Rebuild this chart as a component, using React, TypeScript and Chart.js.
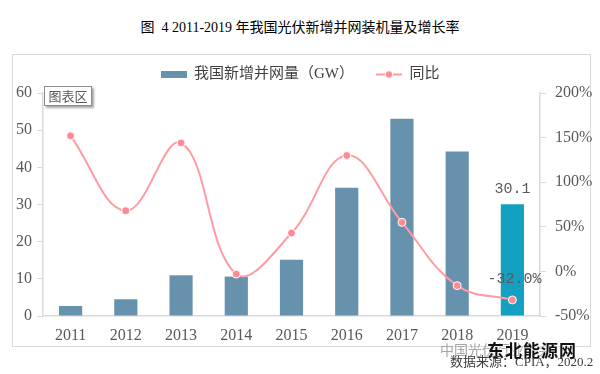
import React, { useEffect, useRef } from 'react';
import { Chart, registerables } from 'chart.js';

Chart.register(...registerables);

const years = ['2011', '2012', '2013', '2014', '2015', '2016', '2017', '2018', '2019'];
const capacityGW = [2.7, 4.5, 10.95, 10.6, 15.13, 34.54, 53.06, 44.26, 30.1];
const growthPct = [152, 68, 144, -3, 43, 130, 55, -16, -32];
const seriesNames = ['我国新增并网量（GW）', '同比'];
const leftAxis = { min: 0, max: 60, step: 10 };
const rightAxis = { min: -50, max: 200, step: 50 };
const labelledIndex = 8;

const titleText = '图  4 2011-2019 年我国光伏新增并网装机量及增长率';
const sourceText = '数据来源：CPIA，2020.2';

const BAR = '#6792AD';
const BAR_HL = '#14A0C0';
const LINE = '#FF9CA3';
const POINT = '#FF8A94';
const TXT = '#595959';
const AXIS = '#D9D9D9';
const FONT = '"Liberation Serif", "Noto Sans CJK SC", serif';

function makeBarSwatch() {
  const c = document.createElement('canvas');
  c.width = 26; c.height = 7;
  const g = c.getContext('2d')!;
  g.fillStyle = BAR;
  g.fillRect(0, 0, 26, 7);
  return c;
}
function makeLineSwatch() {
  const c = document.createElement('canvas');
  c.width = 26; c.height = 10;
  const g = c.getContext('2d')!;
  g.strokeStyle = LINE; g.lineWidth = 2;
  g.beginPath(); g.moveTo(0, 5); g.lineTo(26, 5); g.stroke();
  g.fillStyle = POINT; g.strokeStyle = '#fff'; g.lineWidth = 1;
  g.beginPath(); g.arc(13, 5, 3.8, 0, Math.PI * 2); g.fill(); g.stroke();
  return c;
}

const legendHeightPlugin = {
  id: 'legendHeight',
  afterInit(chart: any) {
    const lg = chart.legend;
    if (lg) {
      const orig = lg.fit.bind(lg);
      lg.fit = function () { orig(); this.height = 48; };
    }
  },
};

const valueLabelPlugin = {
  id: 'valueLabels',
  afterDatasetsDraw(chart: any) {
    const ctx = chart.ctx;
    const bar = chart.getDatasetMeta(0).data[labelledIndex];
    const pt = chart.getDatasetMeta(1).data[labelledIndex];
    ctx.save();
    ctx.font = '15px "Liberation Mono", monospace';
    ctx.fillStyle = TXT;
    ctx.textAlign = 'center';
    ctx.textBaseline = 'middle';
    ctx.fillText(capacityGW[labelledIndex].toFixed(1), bar.x, bar.y - 15);
    ctx.fillText(growthPct[labelledIndex].toFixed(1) + '%', pt.x + 2, pt.y - 21);
    ctx.restore();
  },
};

export default function App() {
  const ref = useRef<HTMLCanvasElement>(null);
  useEffect(() => {
    if (!ref.current) return;
    const barSwatch = makeBarSwatch();
    const lineSwatch = makeLineSwatch();
    const chart = new Chart(ref.current, {
      type: 'bar',
      data: {
        labels: years,
        datasets: [
          {
            type: 'bar',
            label: seriesNames[0],
            data: capacityGW,
            backgroundColor: years.map((_, i) => (i === labelledIndex ? BAR_HL : BAR)),
            yAxisID: 'y',
            barPercentage: 0.42,
            categoryPercentage: 1,
            order: 2,
          } as any,
          {
            type: 'line',
            label: seriesNames[1],
            data: growthPct,
            yAxisID: 'y1',
            borderColor: LINE,
            borderWidth: 2,
            tension: 0.4,
            pointRadius: 4,
            pointBackgroundColor: POINT,
            pointBorderColor: '#fff',
            pointBorderWidth: 1,
            order: 1,
          } as any,
        ],
      },
      options: {
        responsive: false,
        animation: false,
        layout: { padding: { top: 45, left: 0, right: 0, bottom: 0 } },
        plugins: {
          tooltip: { enabled: false },
          legend: {
            position: 'top',
            labels: {
              usePointStyle: true,
              pointStyleWidth: 26,
              boxHeight: 10,
              padding: 22,
              color: '#404040',
              font: { family: FONT, size: 15 },
              generateLabels: () => [
                { text: seriesNames[0], pointStyle: barSwatch as any, fillStyle: BAR, strokeStyle: BAR, lineWidth: 0, hidden: false, datasetIndex: 0, fontColor: '#404040' },
                { text: seriesNames[1], pointStyle: lineSwatch as any, fillStyle: LINE, strokeStyle: LINE, lineWidth: 0, hidden: false, datasetIndex: 1, fontColor: '#404040' },
              ],
            },
          },
        },
        scales: {
          x: {
            grid: { display: false },
            border: { color: AXIS, width: 1.5 },
            ticks: { color: TXT, font: { family: FONT, size: 16 }, padding: 2 },
            afterFit: (s: any) => { s.height = 58; },
          },
          y: {
            position: 'left',
            min: leftAxis.min,
            max: leftAxis.max,
            ticks: { stepSize: leftAxis.step, color: TXT, font: { family: FONT, size: 16 }, padding: 5 },
            grid: { drawOnChartArea: false, tickLength: 6, color: AXIS },
            border: { color: AXIS, width: 1.5 },
            afterFit: (s: any) => { s.width = 43; },
          },
          y1: {
            position: 'right',
            min: rightAxis.min,
            max: rightAxis.max,
            ticks: { stepSize: rightAxis.step, color: TXT, font: { family: FONT, size: 16 }, padding: 9, callback: (v: any) => v + '%' },
            grid: { drawOnChartArea: false, tickLength: 6, color: AXIS },
            border: { color: AXIS, width: 1.5 },
            afterFit: (s: any) => { s.width = 60; },
          },
        },
      } as any,
      plugins: [legendHeightPlugin, valueLabelPlugin],
    });
    return () => chart.destroy();
  }, []);

  return (
    <div style={{ position: 'absolute', left: 0, top: 0, width: 600, height: 374, background: '#fff', overflow: 'hidden' }}>
      <div style={{ position: 'absolute', left: 0, top: 18, width: 600, textAlign: 'center', fontFamily: FONT, fontSize: 14, lineHeight: '20px', color: '#000', whiteSpace: 'pre' }}>
        {titleText}
      </div>
      <div style={{ position: 'absolute', left: 12, top: 54, width: 577, height: 291, border: '1px solid #D9D9D9' }} />
      <canvas ref={ref} width={600} height={374} style={{ position: 'absolute', left: 0, top: 0, display: 'block' }} />
      <div style={{ position: 'absolute', left: 44, top: 86, width: 46, height: 18, border: '1px solid #8C8C8C', background: '#fff', boxShadow: '2px 2px 2px rgba(0,0,0,0.35)', fontFamily: '"Noto Sans CJK SC", sans-serif', fontSize: 13, lineHeight: '18px', color: '#595959', textAlign: 'center' }}>
        图表区
      </div>
      <div style={{ position: 'absolute', left: 440, top: 340, fontFamily: '"Noto Sans CJK SC", sans-serif', fontSize: 14, lineHeight: '18px', color: '#A6A6A6' }}>
        中国光伏行业协会
      </div>
      <div style={{ position: 'absolute', left: 487, top: 340, fontFamily: '"Noto Sans CJK SC", sans-serif', fontSize: 17, fontWeight: 700, lineHeight: '20px', color: '#111', letterSpacing: 1, textShadow: '0 0 2px #fff, 0 0 2px #fff' }}>
        东北能源网
      </div>
      <div style={{ position: 'absolute', left: 450, top: 354, fontFamily: FONT, fontSize: 13, lineHeight: '16px', color: '#404040' }}>
        {sourceText}
      </div>
    </div>
  );
}
